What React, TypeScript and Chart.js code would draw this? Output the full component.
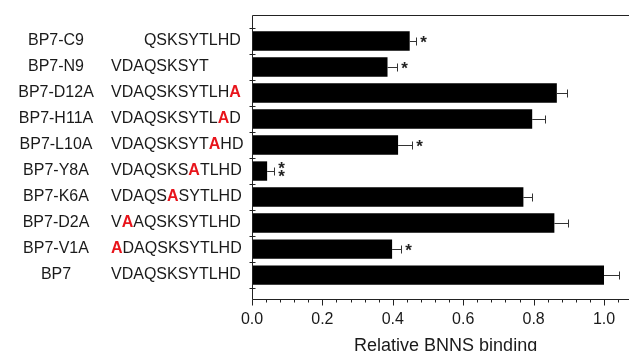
import React, { useEffect, useRef } from 'react';
import { Chart, registerables } from 'chart.js';

Chart.register(...registerables);

// Rows listed top to bottom as in the figure
const names = ['BP7-C9', 'BP7-N9', 'BP7-D12A', 'BP7-H11A', 'BP7-L10A', 'BP7-Y8A', 'BP7-K6A', 'BP7-D2A', 'BP7-V1A', 'BP7'];
const wildType = 'VDAQSKSYTLHD';
const sequences = ['QSKSYTLHD', 'VDAQSKSYT', 'VDAQSKSYTLHA', 'VDAQSKSYTLAD', 'VDAQSKSYTAHD', 'VDAQSKSATLHD', 'VDAQSASYTLHD', 'VAAQSKSYTLHD', 'ADAQSKSYTLHD', 'VDAQSKSYTLHD'];
const seqStarts = [3, 0, 0, 0, 0, 0, 0, 0, 0, 0];
const mutatedPositions = [-1, -1, 11, 10, 9, 7, 5, 1, 0, -1];
const binding = [0.448, 0.385, 0.866, 0.796, 0.415, 0.043, 0.771, 0.859, 0.398, 1.0];
const bindingError = [0.019, 0.027, 0.029, 0.036, 0.040, 0.020, 0.025, 0.040, 0.026, 0.044];
const significance = ['*', '*', '', '', '*', '**', '', '', '*', ''];
const xMajorTicks = [0, 0.2, 0.4, 0.6, 0.8, 1.0];
const xMinorTicks = [0.04, 0.08, 0.12, 0.16, 0.24, 0.28, 0.32, 0.36, 0.44, 0.48, 0.52, 0.56, 0.64, 0.68, 0.72, 0.76, 0.84, 0.88, 0.92, 0.96, 1.04];
const xTitle = 'Relative BNNS binding';

const FONT = '"Liberation Sans", Arial, sans-serif';
const n = names.length;
const rowIndex = (i: number) => n - 1 - i;

const overlayPlugin = {
  id: 'overlay',
  afterDatasetsDraw(chart: any) {
    const { ctx, chartArea, scales } = chart;
    const xs = scales.x;
    const ys = scales.y;
    const ax = Math.round(xs.getPixelForValue(0)) + 0.5;
    const top = Math.round(chartArea.top) + 0.5;
    const bottom = Math.round(chartArea.bottom) + 0.5;
    ctx.save();
    ctx.strokeStyle = '#222';
    ctx.lineWidth = 1;
    // frame: left axis, bottom axis, top border
    ctx.beginPath();
    ctx.moveTo(ax, top);
    ctx.lineTo(ax, bottom);
    ctx.moveTo(ax, bottom);
    ctx.lineTo(chartArea.right, bottom);
    ctx.moveTo(ax, top);
    ctx.lineTo(chartArea.right, top);
    ctx.stroke();
    // y boundary ticks
    ctx.beginPath();
    for (let k = -0.5; k <= n - 0.5 + 1e-6; k += 1) {
      const py = Math.round(ys.getPixelForValue(k)) + 0.5;
      ctx.moveTo(ax - 3, py);
      ctx.lineTo(ax + 3, py);
    }
    ctx.stroke();
    // x ticks
    ctx.beginPath();
    xMajorTicks.forEach((v) => {
      const px = Math.round(xs.getPixelForValue(v)) + 0.5;
      ctx.moveTo(px, bottom);
      ctx.lineTo(px, bottom + 6);
    });
    xMinorTicks.forEach((v) => {
      const px = Math.round(xs.getPixelForValue(v)) + 0.5;
      ctx.moveTo(px, bottom);
      ctx.lineTo(px, bottom + 3);
    });
    ctx.stroke();

    // error bars and significance marks
    ctx.strokeStyle = '#333';
    ctx.fillStyle = '#222';
    ctx.font = `bold 17px ${FONT}`;
    ctx.textAlign = 'center';
    ctx.textBaseline = 'alphabetic';
    binding.forEach((v, i) => {
      const cy = Math.round(ys.getPixelForValue(rowIndex(i))) + 0.5;
      const x0 = xs.getPixelForValue(v);
      const x1 = Math.round(xs.getPixelForValue(v + bindingError[i])) + 0.5;
      ctx.beginPath();
      ctx.moveTo(x0, cy);
      ctx.lineTo(x1, cy);
      ctx.moveTo(x1, cy - 4);
      ctx.lineTo(x1, cy + 4);
      ctx.stroke();
      const s = significance[i];
      if (s.length === 1) {
        ctx.fillText('*', x1 + 7, cy + 6);
      } else if (s.length === 2) {
        ctx.fillText('*', x1 + 7, cy + 2);
        ctx.fillText('*', x1 + 7, cy + 10);
      }
    });

    // left labels: names and sequences
    ctx.textBaseline = 'middle';
    const nameCenter = 56;
    const seqLeft = 111;
    names.forEach((name, i) => {
      const cy = ys.getPixelForValue(rowIndex(i));
      ctx.font = `16px ${FONT}`;
      ctx.fillStyle = '#1a1a1a';
      ctx.textAlign = 'center';
      ctx.fillText(name, nameCenter, cy);
      ctx.textAlign = 'left';
      let x = seqLeft + ctx.measureText(wildType.slice(0, seqStarts[i])).width;
      const seq = sequences[i];
      for (let c = 0; c < seq.length; c++) {
        const pos = seqStarts[i] + c;
        if (pos === mutatedPositions[i]) {
          ctx.font = `bold 16px ${FONT}`;
          ctx.fillStyle = '#e8141b';
        } else {
          ctx.font = `16px ${FONT}`;
          ctx.fillStyle = '#1a1a1a';
        }
        ctx.fillText(seq[c], x, cy);
        x += ctx.measureText(seq[c]).width;
      }
    });

    // x axis title
    ctx.font = `18px ${FONT}`;
    ctx.fillStyle = '#1a1a1a';
    ctx.textAlign = 'center';
    ctx.textBaseline = 'alphabetic';
    ctx.fillText(xTitle, xs.getPixelForValue(0.55), chart.height - 0.5);
    ctx.restore();
  },
};

export default function App() {
  const ref = useRef<HTMLCanvasElement>(null);
  useEffect(() => {
    const canvas = ref.current;
    if (!canvas) return;
    const chart = new Chart(canvas, {
      type: 'bar',
      data: {
        datasets: [
          {
            data: binding.map((v, i) => ({ x: v, y: rowIndex(i) })),
            backgroundColor: '#000',
            borderWidth: 0,
            categoryPercentage: 1,
            barPercentage: 0.81,
          } as any,
        ],
      },
      options: {
        indexAxis: 'y',
        responsive: false,
        animation: false,
        layout: { padding: { left: 252, right: 0, top: 15, bottom: 0 } },
        plugins: { legend: { display: false }, tooltip: { enabled: false } },
        scales: {
          x: {
            type: 'linear',
            min: 0,
            max: 1.071,
            afterBuildTicks: (s: any) => {
              s.ticks = xMajorTicks.map((v) => ({ value: v }));
            },
            afterFit: (s: any) => {
              s.height = 52;
            },
            ticks: {
              autoSkip: false,
              maxRotation: 0,
              padding: 3,
              color: '#1a1a1a',
              font: { family: FONT, size: 16 },
              callback: (v: any) => Number(v).toFixed(1),
            },
            grid: { display: false },
            border: { display: false },
          },
          y: {
            type: 'linear',
            min: -0.92,
            max: 10,
            offset: false,
            afterFit: (s: any) => {
              s.width = 0;
            },
            ticks: { display: false },
            grid: { display: false, offset: false },
            border: { display: false },
          },
        },
      } as any,
      plugins: [overlayPlugin],
    });
    return () => chart.destroy();
  }, []);
  return (
    <div style={{ position: 'fixed', left: 0, top: 0, width: 629, height: 351, background: '#fff' }}>
      <canvas ref={ref} width={629} height={351} style={{ display: 'block', width: 629, height: 351 }} />
    </div>
  );
}
